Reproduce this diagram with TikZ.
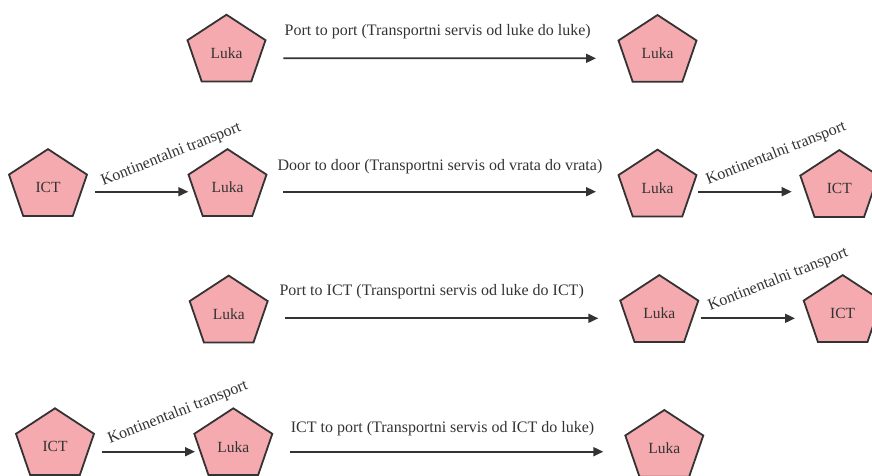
\documentclass[tikz,border=0pt]{standalone}
\usepackage{fontspec}
\setmainfont{Liberation Serif}
\usetikzlibrary{arrows.meta,calc}
\definecolor{pinkfill}{RGB}{245,170,175}
\definecolor{ink}{RGB}{51,51,51}
\tikzset{
  pentshape/.style={draw=ink,line width=1.8pt,line join=miter,fill=pinkfill},
  penttext/.style={inner sep=0pt,text=ink,font=\rmfamily\fontsize{15.5}{18}\selectfont},
  arr/.style={draw=ink,line width=1.8pt,-{Triangle[length=10pt,width=9pt]}},
  lbl/.style={text=ink,font=\rmfamily\fontsize{16}{19}\selectfont,anchor=base,inner sep=0pt},
  rotlbl/.style={lbl,rotate=21.5}
}
\newcommand\pent[4]{%
  \draw[pentshape] (#2,#3) +(0,-36.9) -- +(-39,-11.4) -- +(-24.8,29.9) -- +(24.8,29.9) -- +(39,-11.4) -- cycle;
  \node[penttext] (#1) at (#2,#3+1.5) {#4};
}
\begin{document}
\begin{tikzpicture}[x=1pt,y=-1pt]
\useasboundingbox (0,0) rectangle (872,475);
% row 1
\pent{A1}{226.5}{51.6}{Luka}
\pent{B1}{657.5}{51.9}{Luka}
\draw[arr] ($(A1)+(56.8,5.2)$) -- ($(B1)+(-61.5,4.9)$);
\node[lbl] (t1) at (437.7,35.5) {Port to port (Transportni servis od luke do luke)};
% row 2
\pent{C2}{48}{186}{ICT}
\pent{A2}{227.5}{186}{Luka}
\pent{B2}{657.5}{186.5}{Luka}
\pent{D2}{839.3}{187}{ICT}
\draw[arr] ($(C2)+(47,4.2)$) -- ($(A2)+(-39.2,4.2)$);
\draw[arr] ($(A2)+(55.5,4.2)$) -- ($(B2)+(-61.5,3.7)$);
\draw[arr] ($(B2)+(40.8,3.7)$) -- ($(D2)+(-47.6,3.2)$);
\node[rotlbl] (k2a) at (172.6,158.1) {Kontinentalni transport};
\node[rotlbl] (k2b) at (777.6,157.4) {Kontinentalni transport};
\node[lbl] (t2) at (440,170) {Door to door (Transportni servis od vrata do vrata)};
% row 3
\pent{A3}{228.7}{312.5}{Luka}
\pent{B3}{659.3}{312}{Luka}
\pent{D3}{842.7}{312}{ICT}
\draw[arr] ($(A3)+(56.3,4.3)$) -- ($(B3)+(-61,4.8)$);
\draw[arr] ($(B3)+(41.4,4.8)$) -- ($(D3)+(-47.7,4.8)$);
\node[rotlbl] (k3) at (779.6,283.4) {Kontinentalni transport};
\node[lbl] (t3) at (431.7,295) {Port to ICT (Transportni servis od luke do ICT)};
% row 4
\pent{C4}{55}{445.2}{ICT}
\pent{A4}{233.3}{445.2}{Luka}
\pent{B4}{664.3}{446.9}{Luka}
\draw[arr] ($(C4)+(46.7,5)$) -- ($(A4)+(-38.3,5)$);
\draw[arr] ($(A4)+(56.7,5)$) -- ($(B4)+(-61,3.3)$);
\node[rotlbl] (k4) at (179.3,416.4) {Kontinentalni transport};
\node[lbl] (t4) at (442.5,432) {ICT to port (Transportni servis od ICT do luke)};
\end{tikzpicture}
\end{document}
